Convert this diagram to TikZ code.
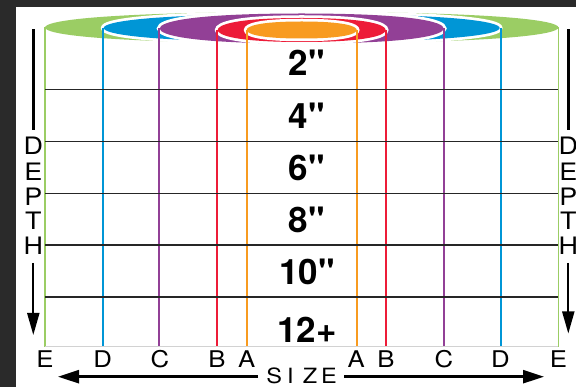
\documentclass[tikz,border=0pt]{standalone}
\usepackage{fontspec}
\usetikzlibrary{arrows.meta}
\newfontfamily\labfont{TeX Gyre Heros}[FakeStretch=1.12]
\newfontfamily\numfont{TeX Gyre Heros}
\definecolor{bggray}{RGB}{42,42,42}
\definecolor{cgreen}{RGB}{155,205,100}
\definecolor{cblue}{RGB}{0,150,214}
\definecolor{cpurple}{RGB}{146,64,150}
\definecolor{cred}{RGB}{237,28,56}
\definecolor{corange}{RGB}{248,155,32}
\tikzset{
  capblob/.style n args={4}{insert path={({#1-#3},#2) .. controls ({#1-#3},{#2-0.42*#4}) and ({#1-0.8*#3},{#2-#4}) .. (#1,{#2-#4}) .. controls ({#1+0.8*#3},{#2-#4}) and ({#1+#3},{#2-0.42*#4}) .. ({#1+#3},#2) .. controls ({#1+#3},{#2+0.42*#4}) and ({#1+0.8*#3},{#2+#4}) .. (#1,{#2+#4}) .. controls ({#1-0.8*#3},{#2+#4}) and ({#1-#3},{#2+0.42*#4}) .. cycle}},
  whiteedge/.style={fill=white,draw=white,line width=5.5pt},
  vline/.style={line width=1.8pt},
  hline/.style={line width=1.5pt,black!85},
  sizelab/.style={inner sep=0pt,font=\labfont\fontsize{23}{23}\selectfont},
  depthlab/.style={inner sep=0pt,font=\labfont\fontsize{24}{24}\selectfont},
  sizeword/.style={inner sep=0pt,font=\labfont\fontsize{21}{21}\selectfont},
  rowlab/.style={inner sep=0pt,font=\numfont\bfseries\fontsize{35}{35}\selectfont},
  bigarrow/.style={line width=2.5pt,-{Triangle[length=21pt,width=13pt]}},
}
\begin{document}
\begin{tikzpicture}[x=1pt,y=-1pt]
\useasboundingbox (0,0) rectangle (576,387);
\clip (0,0) rectangle (576,387);
\fill[bggray] (0,0) rectangle (576,387);
\fill[white] (16,7) rectangle (576,387);

% green
\fill[cgreen] [capblob={301.7}{27.5}{256.7}{15.5}];
\coordinate (gL) at (45,27.5); \coordinate (gLb) at (45,347);
\coordinate (gR) at (558.4,27.5); \coordinate (gRb) at (558.4,347);
\draw[vline,cgreen] (gL) -- (gLb); \draw[vline,cgreen] (gR) -- (gRb);
% blue
\path[whiteedge] [capblob={301.7}{28}{198}{14}];
\fill[cblue] [capblob={301.7}{28}{198}{14}];
\coordinate (bL) at (102.7,28); \coordinate (bLb) at (102.7,347);
\coordinate (bR) at (500.7,28); \coordinate (bRb) at (500.7,347);
\draw[vline,cblue] (bL) -- (bLb); \draw[vline,cblue] (bR) -- (bRb);
% purple
\path[whiteedge] [capblob={301.7}{28.5}{142}{15}];
\fill[cpurple] [capblob={301.7}{28.5}{142}{15}];
\coordinate (pL) at (159.2,28.5); \coordinate (pLb) at (159.2,347);
\coordinate (pR) at (444.2,28.5); \coordinate (pRb) at (444.2,347);
\draw[vline,cpurple] (pL) -- (pLb); \draw[vline,cpurple] (pR) -- (pRb);
% red
\path[whiteedge] [capblob={301.7}{30}{84}{12}];
\fill[cred] [capblob={301.7}{30}{84}{12}];
\coordinate (rL) at (217.2,30); \coordinate (rLb) at (217.2,347);
\coordinate (rR) at (386.2,30); \coordinate (rRb) at (386.2,347);
\draw[vline,cred] (rL) -- (rLb); \draw[vline,cred] (rR) -- (rRb);
% orange
\path[whiteedge] [capblob={301.7}{30}{55}{8.5}];
\fill[corange] [capblob={301.7}{30}{55}{8.5}];
\coordinate (oL) at (246.7,30); \coordinate (oLb) at (246.7,347);
\coordinate (oR) at (356.7,30); \coordinate (oRb) at (356.7,347);
\draw[vline,corange] (oL) -- (oLb); \draw[vline,corange] (oR) -- (oRb);

% bottom grey line
\draw[gray!35,line width=1pt] (gLb) -- (gRb);

% horizontal depth lines
\foreach \yy/\nm in {89.5/h1,141.5/h2,193.5/h3,245/h4,297/h5}{
  \coordinate (\nm a) at (45,\yy); \coordinate (\nm b) at (558.4,\yy);
  \draw[hline] (\nm a) -- (\nm b);
}

% row labels
\node[rowlab] (r2) at (307,62.5) {2"};
\node[rowlab] (r4) at (307,116) {4"};
\node[rowlab] (r6) at (307,168) {6"};
\node[rowlab] (r8) at (307,220) {8"};
\node[rowlab] (r10) at (307,272) {10"};
\node[rowlab] (r12) at (307,330) {12+};

% size letters
\node[sizelab] (lE) at (45,359) {E};
\node[sizelab] (lD) at (102.7,359) {D};
\node[sizelab] (lC) at (159.8,359) {C};
\node[sizelab] (lB) at (217,359) {B};
\node[sizelab] (lA) at (246.7,359) {A};
\node[sizelab] (rA) at (356.3,359) {A};
\node[sizelab] (rB) at (385.9,359) {B};
\node[sizelab] (rC) at (443.9,359) {C};
\node[sizelab] (rD) at (500.3,359) {D};
\node[sizelab] (rE) at (558.4,359) {E};

% SIZE word
\node[sizeword] (sS) at (274.2,375.5) {S};
\node[sizeword] (sI) at (290.5,375.5) {I};
\node[sizeword] (sZ) at (310,375.5) {Z};
\node[sizeword] (sE) at (329,375.5) {E};
\coordinate (saL) at (258,376.7); \coordinate (saLt) at (58,376.7);
\coordinate (saR) at (344,376.7); \coordinate (saRt) at (544,376.7);
\draw[bigarrow] (saL) -- (saLt);
\draw[bigarrow] (saR) -- (saRt);

% DEPTH labels
\foreach \xx/\sd in {33.3/L,568.3/R}{
  \node[depthlab] (dD\sd) at (\xx,146) {D};
  \node[depthlab] (dE\sd) at (\xx,171.5) {E};
  \node[depthlab] (dP\sd) at (\xx,196.5) {P};
  \node[depthlab] (dT\sd) at (\xx,221) {T};
  \node[depthlab] (dH\sd) at (\xx,245.5) {H};
}
\coordinate (dl1) at (33.3,29.3); \coordinate (dl2) at (33.3,130);
\coordinate (dl3) at (33.3,263); \coordinate (dl4) at (33.3,335);
\coordinate (dr1) at (568.3,29.3); \coordinate (dr2) at (568.3,130);
\coordinate (dr3) at (568.3,263); \coordinate (dr4) at (568.3,333.5);
\draw[line width=3pt] (dl1) -- (dl2);
\draw[line width=3pt] (dr1) -- (dr2);
\draw[line width=2pt,-{Triangle[length=22pt,width=12pt]}] (dl3) -- (dl4);
\draw[line width=2pt,-{Triangle[length=22pt,width=12pt]}] (dr3) -- (dr4);
\end{tikzpicture}
\end{document}
